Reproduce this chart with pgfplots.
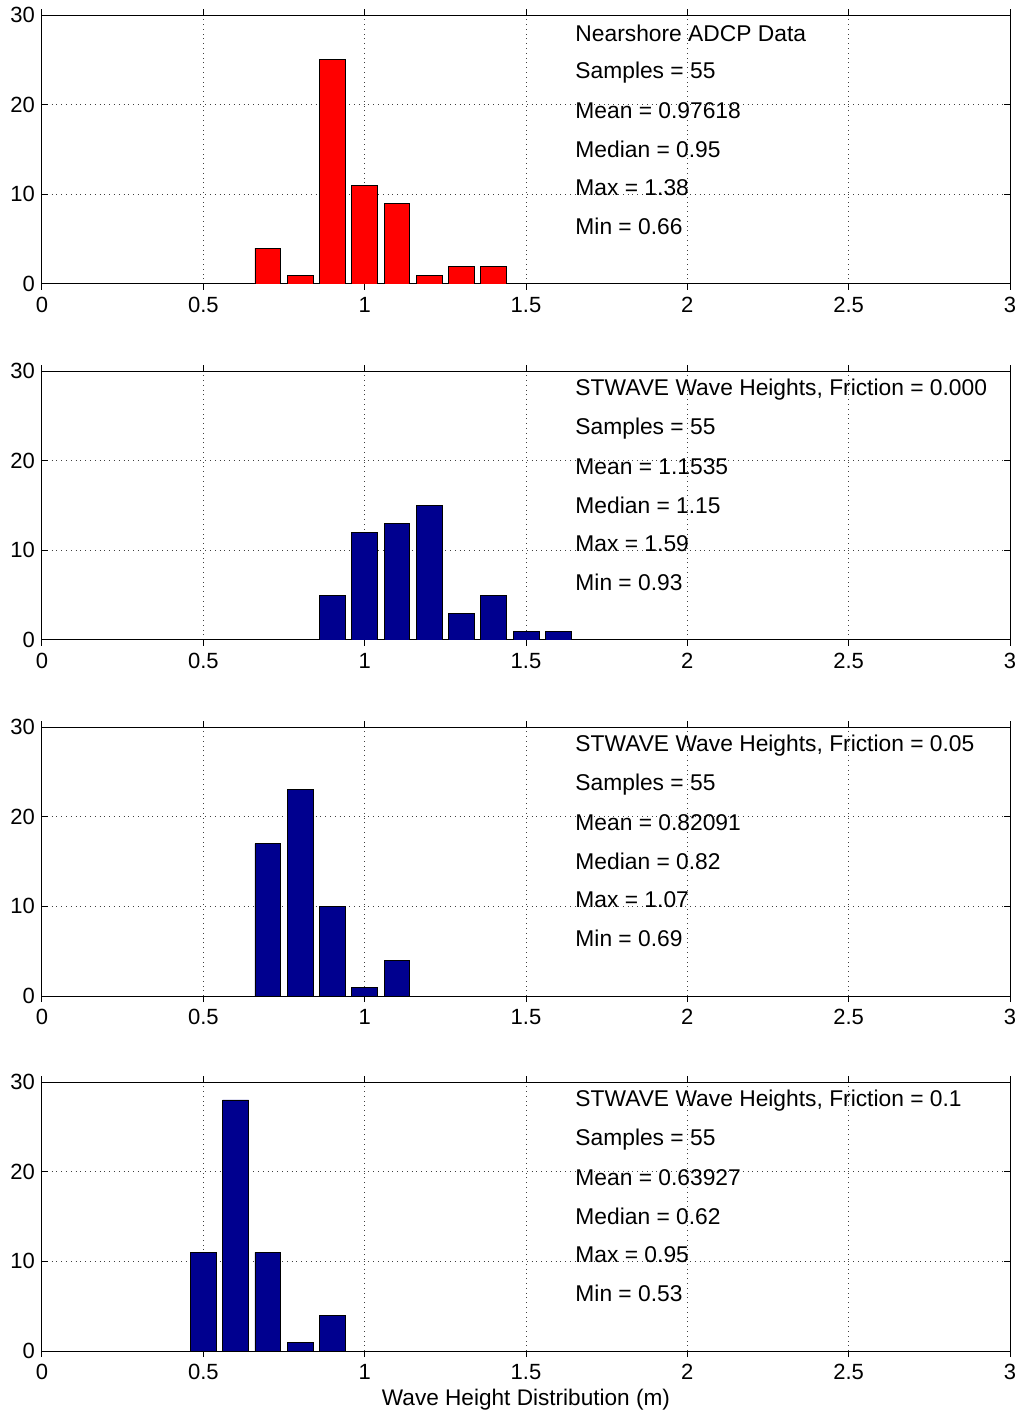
\documentclass[border=0pt]{standalone}
\usepackage{fontspec}
\setmainfont{Liberation Sans}
\usepackage{pgfplots}
\pgfplotsset{compat=1.18}
\definecolor{mnavy}{rgb}{0,0,0.5625}
\pgfplotsset{panel/.style={
  width=484pt,height=134.5pt,scale only axis,
  xmin=0,xmax=3,ymin=0,ymax=30,
  xtick={0,0.5,1,1.5,2,2.5,3}, ytick={0,10,20,30},
  grid=major, major grid style={dotted, black!75, line width=0.5pt},
  tick align=inside, major tick length=3pt,
  axis line style={line width=0.5pt},
  every tick/.style={black,line width=0.5pt},
  ticklabel style={font=\fontsize{11}{13}\selectfont},
  /pgf/number format/assume math mode=true,
  ybar, bar width=0.08, bar shift=0pt,
  anchor=north west,
}}
\newcommand{\stats}[6]{%
  \node[anchor=west,inner sep=0pt,font=\fontsize{11.4}{13}\selectfont] at (axis cs:1.652,27.9) {#1};
  \node[anchor=west,inner sep=0pt,font=\fontsize{11.4}{13}\selectfont] at (axis cs:1.652,23.6) {#2};
  \node[anchor=west,inner sep=0pt,font=\fontsize{11.4}{13}\selectfont] at (axis cs:1.652,19.3) {#3};
  \node[anchor=west,inner sep=0pt,font=\fontsize{11.4}{13}\selectfont] at (axis cs:1.652,15.0) {#4};
  \node[anchor=west,inner sep=0pt,font=\fontsize{11.4}{13}\selectfont] at (axis cs:1.652,10.7) {#5};
  \node[anchor=west,inner sep=0pt,font=\fontsize{11.4}{13}\selectfont] at (axis cs:1.652,6.4) {#6};
}
\begin{document}
\begin{tikzpicture}
\useasboundingbox (-21pt,7.5pt) rectangle (489.5pt,-699.5pt);
\begin{axis}[panel, at={(0pt,0pt)}]
\addplot[fill=red, draw=black, line width=0.4pt] coordinates {(0.7,4) (0.8,1) (0.9,25) (1.0,11) (1.1,9) (1.2,1) (1.3,2) (1.4,2)};
\stats{Nearshore ADCP Data}{Samples = 55}{Mean = 0.97618}{Median = 0.95}{Max = 1.38}{Min = 0.66}
\end{axis}
\begin{axis}[panel, at={(0pt,-178pt)}]
\addplot[fill=mnavy, draw=black, line width=0.4pt] coordinates {(0.9,5) (1.0,12) (1.1,13) (1.2,15) (1.3,3) (1.4,5) (1.5,1) (1.6,1)};
\stats{STWAVE Wave Heights, Friction = 0.000}{Samples = 55}{Mean = 1.1535}{Median = 1.15}{Max = 1.59}{Min = 0.93}
\end{axis}
\begin{axis}[panel, at={(0pt,-356pt)}]
\addplot[fill=mnavy, draw=black, line width=0.4pt] coordinates {(0.7,17) (0.8,23) (0.9,10) (1.0,1) (1.1,4)};
\stats{STWAVE Wave Heights, Friction = 0.05}{Samples = 55}{Mean = 0.82091}{Median = 0.82}{Max = 1.07}{Min = 0.69}
\end{axis}
\begin{axis}[panel, at={(0pt,-533.5pt)},
  xlabel={Wave Height Distribution (m)},
  xlabel style={font=\fontsize{11.3}{13}\selectfont, yshift=2pt}]
\addplot[fill=mnavy, draw=black, line width=0.4pt] coordinates {(0.5,11) (0.6,28) (0.7,11) (0.8,1) (0.9,4)};
\stats{STWAVE Wave Heights, Friction = 0.1}{Samples = 55}{Mean = 0.63927}{Median = 0.62}{Max = 0.95}{Min = 0.53}
\end{axis}
\end{tikzpicture}
\end{document}
